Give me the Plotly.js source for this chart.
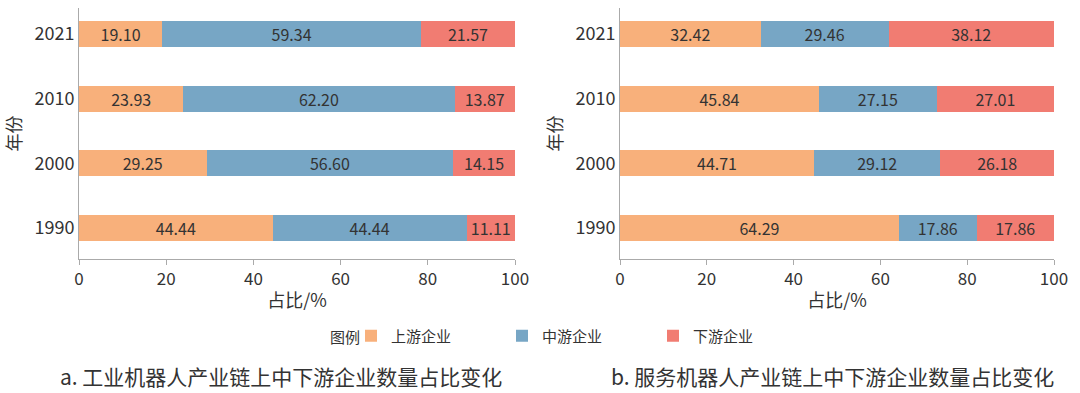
<!DOCTYPE html>
<html><head><meta charset="utf-8">
<script src="https://cdn.plot.ly/plotly-3.0.1.min.js"></script>
<style>html,body{margin:0;padding:0;background:#fff;}#chart{width:1080px;height:393px;}</style>
</head><body><div id="chart"></div>
<script>
const years = ['1990', '2000', '2010', '2021'];
const seriesNames = ['上游企业', '中游企业', '下游企业'];
const colors = ['#F8B07B', '#77A6C5', '#F17C72'];
// a. 工业机器人
const industrialUp = [44.44, 29.25, 23.93, 19.10];
const industrialMid = [44.44, 56.60, 62.20, 59.34];
const industrialDown = [11.11, 14.15, 13.87, 21.57];
// b. 服务机器人
const serviceUp = [64.29, 44.71, 45.84, 32.42];
const serviceMid = [17.86, 29.12, 27.15, 29.46];
const serviceDown = [17.86, 26.18, 27.01, 38.12];
const captionA = 'a. 工业机器人产业链上中下游企业数量占比变化';
const captionB = 'b. 服务机器人产业链上中下游企业数量占比变化';

const FONT = '"Noto Sans CJK SC", "Noto Sans", sans-serif';
const TXT = '#333333';
const H = 393, W = 1080;
const py = p => (H - p) / H;

function mk(vals, i, xa, ya, show) {
  return {
    type: 'bar', orientation: 'h', x: vals, y: years, name: seriesNames[i],
    xaxis: xa, yaxis: ya, showlegend: show,
    marker: {color: colors[i], line: {width: 0}},
    text: vals.map(v => v.toFixed(2)), textposition: 'inside',
    insidetextanchor: 'middle', constraintext: 'none',
    textfont: {family: FONT, size: 16, color: TXT},
    width: 0.4, hoverinfo: 'x+y+name'
  };
}
const data = [
  mk(industrialUp, 0, 'x', 'y', true),
  mk(industrialMid, 1, 'x', 'y', true),
  mk(industrialDown, 2, 'x', 'y', true),
  mk(serviceUp, 0, 'x2', 'y2', false),
  mk(serviceMid, 1, 'x2', 'y2', false),
  mk(serviceDown, 2, 'x2', 'y2', false)
];

function xax(dom, anchor) {
  return {
    domain: dom, anchor: anchor, range: [0, 100], tickvals: [0, 20, 40, 60, 80, 100],
    showgrid: false, zeroline: false, showline: true, linecolor: '#aaaaaa', linewidth: 1,
    ticks: 'outside', ticklen: 5, tickcolor: '#aaaaaa',
    tickfont: {family: FONT, size: 17, color: TXT},
    title: {text: '占比/%', font: {family: FONT, size: 18, color: TXT}, standoff: 4},
    fixedrange: true
  };
}
function yax(anchor) {
  return {
    anchor: anchor, domain: [py(259), py(8)], type: 'category', range: [-0.48, 3.4],
    showgrid: false, zeroline: false, showline: true, linecolor: '#aaaaaa', linewidth: 1,
    ticks: '', tickfont: {family: FONT, size: 18, color: TXT},
    title: {text: '年份', font: {family: FONT, size: 18, color: TXT}, standoff: 8},
    fixedrange: true
  };
}

const layout = {
  width: W, height: H,
  margin: {l: 0, r: 0, t: 0, b: 0},
  paper_bgcolor: '#ffffff', plot_bgcolor: '#ffffff',
  barmode: 'stack',
  font: {family: FONT, color: TXT},
  xaxis: xax([79/W, 515/W], 'y'),
  yaxis: yax('x'),
  xaxis2: xax([620/W, 1054/W], 'y2'),
  yaxis2: yax('x2'),
  legend: {
    orientation: 'h', x: 351/W, xanchor: 'left', y: py(336), yanchor: 'middle',
    entrywidth: 106, entrywidthmode: 'pixels',
    font: {family: FONT, size: 15, color: TXT}, bgcolor: 'rgba(0,0,0,0)',
    traceorder: 'normal'
  },
  annotations: [
    {text: '图例', xref: 'paper', yref: 'paper', x: 362/W, y: py(336), xanchor: 'right', yanchor: 'middle',
     showarrow: false, font: {family: FONT, size: 15, color: TXT}},
    {text: captionA, xref: 'paper', yref: 'paper', x: 281/W, y: py(376), xanchor: 'center', yanchor: 'middle',
     showarrow: false, font: {family: FONT, size: 21, color: TXT}},
    {text: captionB, xref: 'paper', yref: 'paper', x: 832/W, y: py(376), xanchor: 'center', yanchor: 'middle',
     showarrow: false, font: {family: FONT, size: 21, color: TXT}}
  ]
};
Plotly.newPlot('chart', data, layout, {displayModeBar: false, staticPlot: true});
</script></body></html>
